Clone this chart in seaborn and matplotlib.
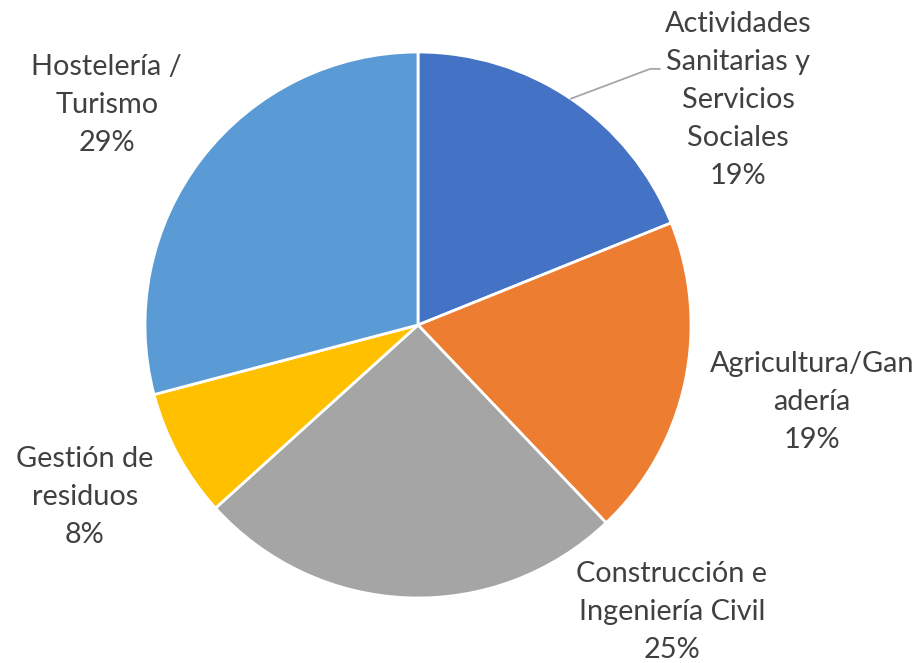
import matplotlib.pyplot as plt
import seaborn as sns
import numpy as np

# sectors, clockwise from 12 o'clock
sectors = [
    "Actividades\nSanitarias y\nServicios\nSociales",
    "Agricultura/Gan\nadería",
    "Construcción e\nIngeniería Civil",
    "Gestión de\nresiduos",
    "Hostelería /\nTurismo",
]
shares = [18.9, 19.0, 25.4, 7.6, 29.1]
colors = ["#4472C4", "#ED7D31", "#A5A5A5", "#FFC000", "#5B9BD5"]

# label centres (data units, pie radius = 1)
label_pos = [(1.172, 0.824), (1.443, -0.282), (0.930, -1.051),
             (-1.220, -0.630), (-1.140, 0.806)]

sns.set_theme(style="white")
plt.rcParams['font.family'] = ['Lato', 'DejaVu Sans']

fig = plt.figure(figsize=(9.2, 6.63), dpi=100)
ax = fig.add_axes([0, 0, 1, 1])

wedges, _ = ax.pie(
    shares,
    colors=colors,
    startangle=90,
    counterclock=False,
    wedgeprops=dict(edgecolor="white", linewidth=2.0),
)

total = sum(shares)
for name, val, (lx, ly) in zip(sectors, shares, label_pos):
    ax.text(lx, ly, f"{name}\n{round(val / total * 100)}%",
            ha="center", va="center", fontsize=20.8, color="#404040",
            linespacing=1.58)

# leader line for first slice
w = wedges[0]
mid = np.deg2rad((w.theta1 + w.theta2) / 2)
x0, y0 = np.cos(mid), np.sin(mid)
ax.plot([x0, 0.850, 0.886], [y0, 0.938, 0.938], color="#A6A6A6", lw=1.3)

# centre at (418, 325) px, radius 273 px
ax.set_xlim(-418 / 273, (920 - 418) / 273)
ax.set_ylim(-(663 - 325) / 273, 325 / 273)
ax.set_aspect("auto")
ax.axis("off")

fig.savefig("out.png", dpi=100, facecolor="white")
